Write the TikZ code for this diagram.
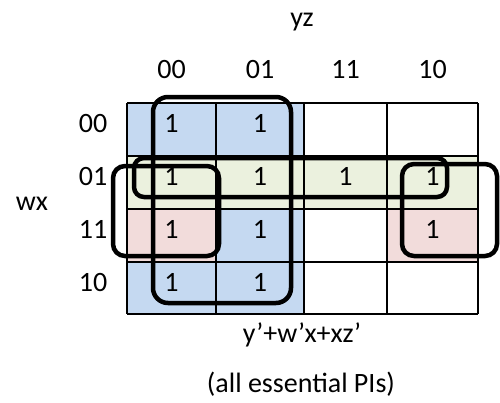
\documentclass[tikz,border=0pt]{standalone}
\usepackage{fontspec}
\setmainfont{Carlito}
\definecolor{kblue}{RGB}{197,217,241}
\definecolor{kgreen}{RGB}{235,241,222}
\definecolor{kpink}{RGB}{242,220,219}
\begin{document}
\begin{tikzpicture}[x=1pt,y=-1pt,
  font=\fontsize{28}{34}\selectfont,
  lbl/.style={anchor=base,inner sep=0pt},
  gridline/.style={line width=2pt,black},
  loop/.style={line width=4.5pt,black}]
\useasboundingbox (0,0) rectangle (500,402);

% cell shading
\fill[kblue] (127,103) rectangle (304,314);
\fill[kgreen] (127,155.5) rectangle (478,208.5);
\fill[kpink] (127,208.5) rectangle (216,261.5);
\fill[kpink] (387,208.5) rectangle (478,261.5);

% grid
\foreach \x in {127,216,304,387,478}
  \draw[gridline] (\x,103) -- (\x,314);
\foreach \y in {103,155.5,208.5,261.5,314}
  \draw[gridline] (127,\y) -- (478,\y);

% variable labels
\node[lbl] (yz) at (302,26) {yz};
\node[lbl] (wx) at (32,210) {wx};

% column labels
\node[lbl] (c00) at (171.5,78) {00};
\node[lbl] (c01) at (260,78) {01};
\node[lbl] (c11) at (345.5,78) {11};
\node[lbl] (c10) at (432.5,78) {10};

% row labels
\node[lbl] (r00) at (93,132) {00};
\node[lbl] (r01) at (93,185) {01};
\node[lbl] (r11) at (93,238) {11};
\node[lbl] (r10) at (93,291) {10};

% minterms
\node[lbl] (m0000) at (171.5,132) {1};
\node[lbl] (m0001) at (260,132) {1};
\node[lbl] (m0100) at (171.5,185) {1};
\node[lbl] (m0101) at (260,185) {1};
\node[lbl] (m0111) at (345.5,185) {1};
\node[lbl] (m0110) at (432.5,185) {1};
\node[lbl] (m1100) at (171.5,238) {1};
\node[lbl] (m1101) at (260,238) {1};
\node[lbl] (m1110) at (432.5,238) {1};
\node[lbl] (m1000) at (171.5,291) {1};
\node[lbl] (m1001) at (260,291) {1};

% prime implicant loops
\draw[loop,rounded corners=15pt] (153,97) rectangle (291,303);
\draw[loop,rounded corners=10pt] (134,158) rectangle (447,197);
\draw[loop,rounded corners=12pt] (113,166) rectangle (219,256);
\draw[loop,rounded corners=12pt] (402,164) rectangle (497,256);

% result
\node[lbl] (expr) at (302,342) {y’+w’x+xz’};
\node[lbl] (note) at (301,392) {(all essential PIs)};
\end{tikzpicture}
\end{document}
